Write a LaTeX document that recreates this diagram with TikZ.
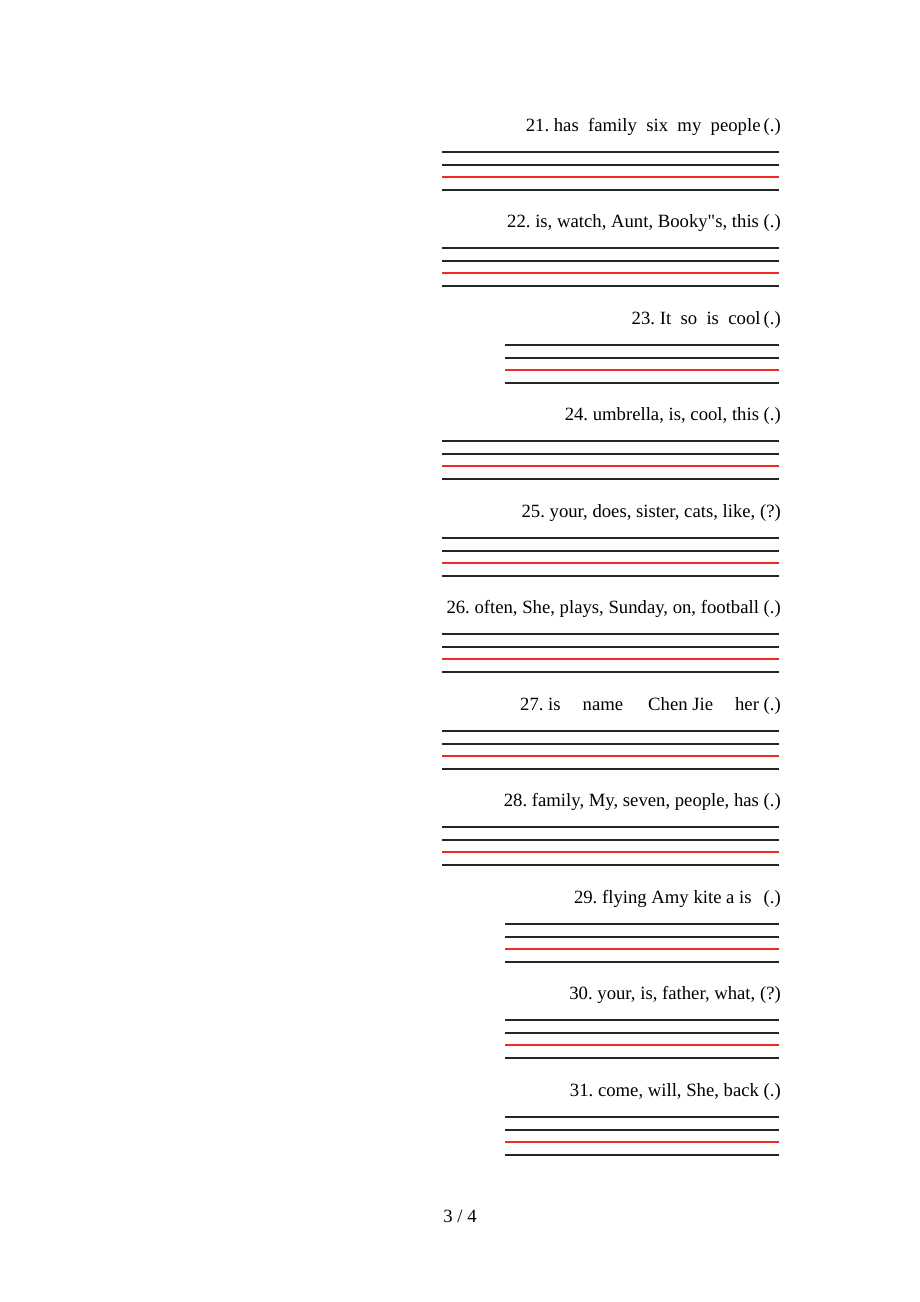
\documentclass[tikz,border=0pt]{standalone}
\usepackage{fontspec}
\setmainfont{Liberation Serif}[Ligatures=TeXOff]
\frenchspacing
\begin{document}
\begin{tikzpicture}[x=1pt,y=-1pt,
  qtext/.style={anchor=base east,inner sep=0pt,font=\fontsize{18.7}{20}\selectfont},
  blk/.style={draw=black!85,line width=1.1pt},
  redl/.style={draw={rgb,255:red,240;green,40;blue,40},line width=1.2pt}]
\fill[white] (0,0) rectangle (920,1302);
\useasboundingbox (0,0) rectangle (920,1302);
\newcommand\qitem[4]{%
  \node[qtext] (q#1) at (781,#2) {#4};
  \coordinate (a#1) at (#3,#2+21);
  \coordinate (b#1) at (779,#2+21);
  \draw[blk] (a#1) -- (b#1);
  \draw[blk] ([yshift=-13]a#1) -- ([yshift=-13]b#1);
  \draw[redl] ([yshift=-25]a#1) -- ([yshift=-25]b#1);
  \draw[blk] ([yshift=-38]a#1) -- ([yshift=-38]b#1);
}
\qitem{21}{131}{442}{21. has\ \ family\ \ six\ \ my\ \ people\,(.)}
\qitem{22}{227}{442}{22. is, watch, Aunt, Booky"s, this (.)}
\qitem{23}{324}{505}{23. It\ \ so\ \ is\ \ cool\,(.)}
\qitem{24}{420}{442}{24. umbrella, is, cool, this (.)}
\qitem{25}{517}{442}{25. your, does, sister, cats, like, (?)}
\qitem{26}{613}{442}{26. often, She, plays, Sunday, on, football (.)}
\qitem{27}{710}{442}{27. is\hspace{22pt}name\hspace{25pt}Chen Jie\hspace{22pt}her (.)}
\qitem{28}{806}{442}{28. family, My, seven, people, has (.)}
\qitem{29}{903}{505}{29. flying Amy kite a is\hspace{12pt}(.)}
\qitem{30}{999}{505}{30. your, is, father, what, (?)}
\qitem{31}{1096}{505}{31. come, will, She, back (.)}
\node[anchor=base,inner sep=0pt,font=\fontsize{18.7}{20}\selectfont] (pg) at (460,1222) {3 / 4};
\end{tikzpicture}
\end{document}
